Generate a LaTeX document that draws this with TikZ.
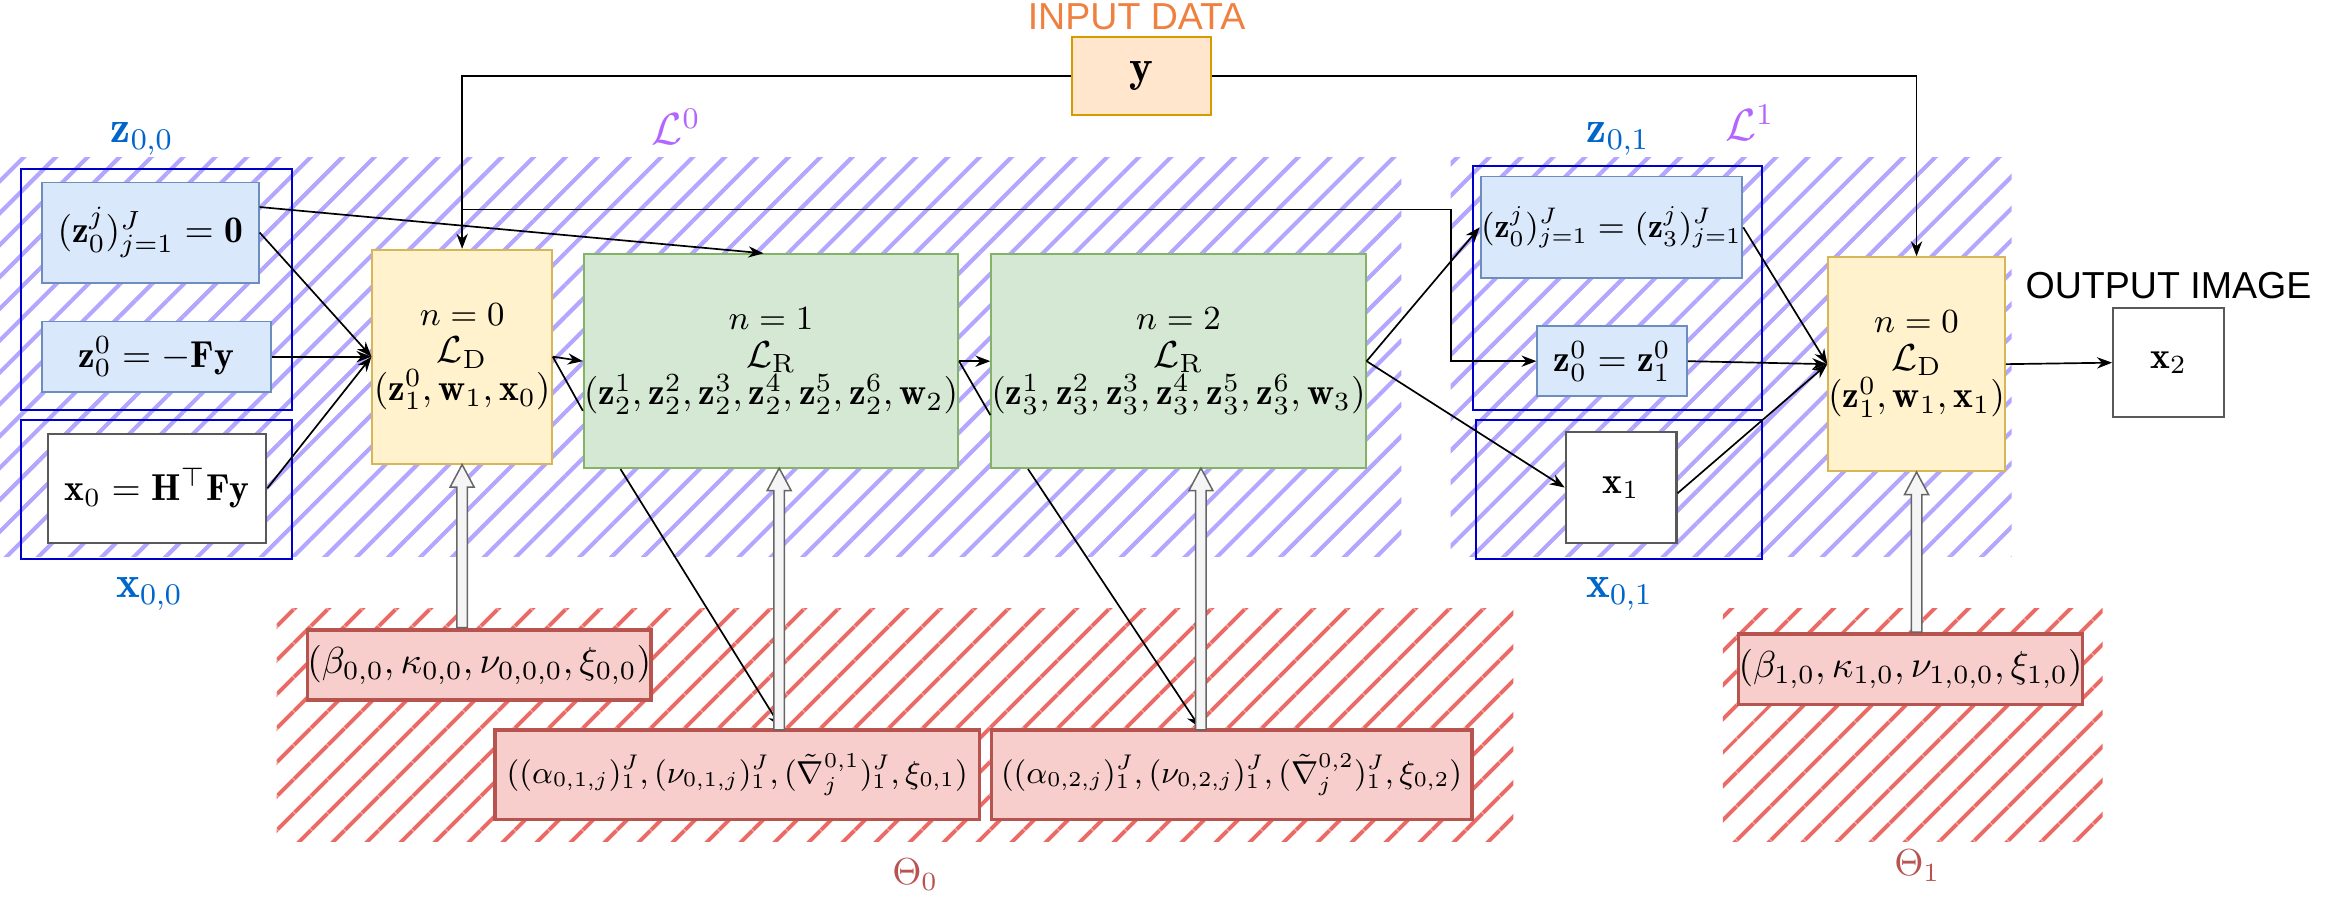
\documentclass[tikz,border=0pt]{standalone}
\usepackage{amsmath,amssymb}
\usepackage{fontspec}
\newfontfamily\labelfont{Liberation Sans}
\usetikzlibrary{patterns.meta,calc,arrows.meta}
\definecolor{hatchP}{HTML}{B3A6FF}
\definecolor{hatchR}{HTML}{EA6B66}
\definecolor{bfill}{HTML}{DAE8FC}
\definecolor{bdraw}{HTML}{6C8EBF}
\definecolor{yfill}{HTML}{FFF2CC}
\definecolor{ydraw}{HTML}{D6B656}
\definecolor{gfill}{HTML}{D5E8D4}
\definecolor{gdraw}{HTML}{82B366}
\definecolor{rfill}{HTML}{F8CECC}
\definecolor{rdraw}{HTML}{B85450}
\definecolor{ofill}{HTML}{FFE6CC}
\definecolor{odraw}{HTML}{D79B00}
\definecolor{otext}{HTML}{F08040}
\definecolor{lblue}{HTML}{0066CC}
\definecolor{lpurp}{HTML}{B266FF}
\definecolor{rtext}{HTML}{B85450}
\newcommand{\bx}[7]{\node[#6, inner sep=0pt, align=center, minimum width={(#4-#2)*0.14mm}, minimum height={(#5-#3)*0.14mm}] (#1) at ({(#2+#4)/2},{(#3+#5)/2}) {#7};}
\newcommand{\hup}[2]{\draw[draw=gray!80!black, fill=gray!8, line width=0.4pt] let \p1=(#1), \p2=(#2) in (\x1-1.4pt,\y1) -- (\x1-1.4pt,\y2-6pt) -- (\x1-3.2pt,\y2-6pt) -- (\x1,\y2) -- (\x1+3.2pt,\y2-6pt) -- (\x1+1.4pt,\y2-6pt) -- (\x1+1.4pt,\y1) -- cycle;}
\tikzset{
 blue box/.style={draw=bdraw, fill=bfill, line width=0.5pt, font=\normalsize},
 white box/.style={draw=gray!70!black, fill=white, line width=0.6pt, font=\normalsize},
 ld box/.style={draw=ydraw, fill=yfill, line width=0.5pt, font=\normalsize},
 lr box/.style={draw=gdraw, fill=gfill, line width=0.5pt, font=\normalsize},
 par box/.style={draw=rdraw, fill=rfill, line width=1pt, font=\normalsize},
 y box/.style={draw=odraw, fill=ofill, line width=0.5pt, font=\large},
 group/.style={draw=blue!80!black, line width=0.5pt},
 phatch/.style={pattern={Lines[angle=45,distance=6pt,line width=1.1pt]}, pattern color=hatchP},
 rhatch/.style={pattern={Lines[angle=45,distance=6.5pt,line width=1.1pt]}, pattern color=hatchR},
 con/.style={draw=black, line width=0.45pt, -{Stealth[length=4pt,width=3pt]}},
 plain/.style={draw=black, line width=0.45pt},
}
\begin{document}
\begin{tikzpicture}[x=0.14mm,y=-0.14mm]
\useasboundingbox (0,0) rectangle (1568,611);
% hatched regions
\fill[phatch] (0,105) rectangle (937,372);
\fill[phatch] (970,105) rectangle (1345,372);
\fill[rhatch] (185,407) rectangle (1012,563);
\fill[rhatch] (1152,407) rectangle (1406,563);
% group rectangles
\draw[group] (14,113) rectangle (195,274);
\draw[group] (14,281) rectangle (195,374);
\draw[group] (985,111) rectangle (1178,274);
\draw[group] (987,281) rectangle (1178,374);
% labels
\node[text=otext, font=\labelfont] (inlab) at (760,11) {INPUT DATA};
\node[font=\labelfont] (outlab) at (1450,191) {OUTPUT IMAGE};
\node[text=lblue, font=\large] (lz00) at (95,93) {$\mathbf z_{0,0}$};
\node[text=lblue, font=\large] (lx00) at (100,397) {$\mathbf x_{0,0}$};
\node[text=lblue, font=\large] (lz01) at (1082,93) {$\mathbf z_{0,1}$};
\node[text=lblue, font=\large] (lx01) at (1083,397) {$\mathbf x_{0,1}$};
\node[text=lpurp, font=\large] (lL0) at (452,85) {$\mathcal L^0$};
\node[text=lpurp, font=\large] (lL1) at (1170,82) {$\mathcal L^1$};
\node[text=rtext] (lT0) at (612,585) {$\Theta_0$};
\node[text=rtext] (lT1) at (1282,579) {$\Theta_1$};
% boxes
\bx{y}{717}{25}{810}{77}{y box}{$\mathbf y$}
\bx{zj0}{28}{122}{173}{189}{blue box}{$(\mathbf z_0^j)_{j=1}^J=\mathbf 0$}
\bx{z00}{28}{215}{181}{262}{blue box}{$\mathbf z_0^0=-\mathbf F\mathbf y$}
\bx{x0}{32}{290}{178}{363}{white box}{$\mathbf x_0=\mathbf H^{\top}\mathbf F\mathbf y$}
\bx{LD0}{249}{167}{369}{310}{ld box}{{\small $n=0$}\\[-2pt] $\mathcal L_{\mathrm D}$\\[-2pt] $(\mathbf z_1^0,\mathbf w_1,\mathbf x_0)$}
\bx{LR1}{392}{170}{639}{313}{lr box}{{\small $n=1$}\\[-2pt] $\mathcal L_{\mathrm R}$\\[-2pt] $(\mathbf z_2^1,\mathbf z_2^2,\mathbf z_2^3,\mathbf z_2^4,\mathbf z_2^5,\mathbf z_2^6,\mathbf w_2)$}
\bx{LR2}{663}{170}{913}{313}{lr box}{{\small $n=2$}\\[-2pt] $\mathcal L_{\mathrm R}$\\[-2pt] $(\mathbf z_3^1,\mathbf z_3^2,\mathbf z_3^3,\mathbf z_3^4,\mathbf z_3^5,\mathbf z_3^6,\mathbf w_3)$}
\bx{zj1}{990}{118}{1165}{186}{blue box,font=\small}{$(\mathbf z_0^j)_{j=1}^J=(\mathbf z_3^j)_{j=1}^J$}
\bx{z01}{1028}{218}{1128}{265}{blue box}{$\mathbf z_0^0=\mathbf z_1^0$}
\bx{x1}{1047}{289}{1121}{363}{white box}{$\mathbf x_1$}
\bx{LD1}{1224}{172}{1339}{315}{ld box}{{\small $n=0$}\\[-2pt] $\mathcal L_{\mathrm D}$\\[-2pt] $(\mathbf z_1^0,\mathbf w_1,\mathbf x_1)$}
\bx{x2}{1413}{206}{1487}{279}{white box}{$\mathbf x_2$}
\bx{b00}{210}{421}{431}{468}{par box}{$(\beta_{0,0},\kappa_{0,0},\nu_{0,0,0},\xi_{0,0})$}
\bx{a1}{331}{488}{655}{548}{par box,font=\small}{\scalebox{0.94}{$((\alpha_{0,1,j})_1^J,(\nu_{0,1,j})_1^J,(\tilde\nabla_j^{0,1})_1^J,\xi_{0,1})$}}
\bx{a2}{663}{488}{984}{548}{par box,font=\small}{\scalebox{0.94}{$((\alpha_{0,2,j})_1^J,(\nu_{0,2,j})_1^J,(\tilde\nabla_j^{0,2})_1^J,\xi_{0,2})$}}
\bx{b10}{1174}{424}{1381}{471}{par box}{$(\beta_{1,0},\kappa_{1,0},\nu_{1,0,0},\xi_{1,0})$}
% connectors from y
\draw[con] (y.west) -| (LD0.north);
\draw[con] (y.east) -| (LD1.north);
\coordinate (br) at (LD0.north |- 0,140);
\coordinate (bc) at (970,140);
\draw[con] (br) -- (bc) |- (z01.west);
% left inputs
\draw[con] ($(zj0.north east)!0.25!(zj0.south east)$) -- ($(LR1.north west)!0.48!(LR1.north east)$);
\draw[con] ($(zj0.north east)!0.5!(zj0.south east)$) -- (LD0.west);
\draw[con] (z00.east) -- (LD0.west);
\draw[con] (x0.east) -- (LD0.west);
% chain
\draw[con] (LD0.east) -- (LR1.west);
\draw[plain] (LD0.east) -- ($(LR1.north west)!0.73!(LR1.south west)$);
\draw[con] (LR1.east) -- (LR2.west);
\draw[plain] (LR1.east) -- ($(LR2.north west)!0.75!(LR2.south west)$);
\draw[con] (LR2.east) -- (zj1.west);
\draw[con] (LR2.east) -- (x1.west);
\draw[con] ($(zj1.north east)!0.5!(zj1.south east)$) -- (LD1.west);
\draw[con] (z01.east) -- (LD1.west);
\draw[con] ($(x1.north east)!0.55!(x1.south east)$) -- (LD1.west);
\draw[con] (LD1.east) -- (x2.west);
% to parameter boxes
\draw[con] ($(LR1.south west)!0.1!(LR1.south east)$) -- ($(a1.north west)!0.59!(a1.north east)$);
\draw[con] ($(LR2.south west)!0.1!(LR2.south east)$) -- ($(a2.north west)!0.435!(a2.north east)$);
% hollow arrows
\coordinate (h1b) at (b00.north -| LD0.south);
\hup{h1b}{LD0.south}
\coordinate (h2b) at (521,488);
\coordinate (h2t) at (521,313);
\hup{h2b}{h2t}
\coordinate (h3b) at (803,488);
\coordinate (h3t) at (803,313);
\hup{h3b}{h3t}
\coordinate (h4b) at (b10.north -| LD1.south);
\hup{h4b}{LD1.south}
\end{tikzpicture}
\end{document}
